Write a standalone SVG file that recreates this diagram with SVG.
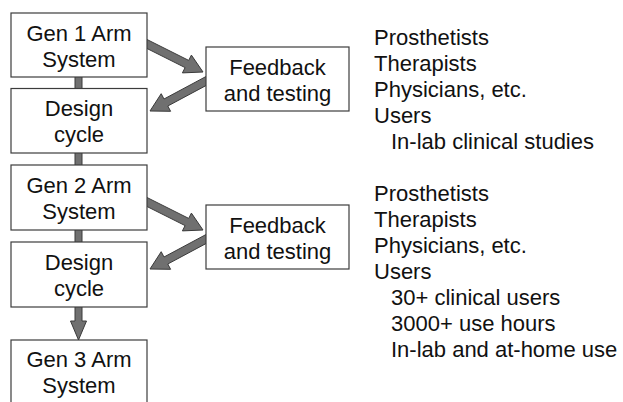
<svg xmlns="http://www.w3.org/2000/svg" width="623" height="402" viewBox="0 0 623 402">
<style>
.box{fill:#fff;stroke:#3c3c3c;stroke-width:1.2}
.con{fill:#707070;stroke:#3a3a3a;stroke-width:1}
text{font-family:"Liberation Sans",Arial,sans-serif;font-size:22px;fill:#111}
.c{text-anchor:middle}
</style>
<rect width="623" height="402" fill="#fff"/>
<g id="connectors">
<rect class="con" x="75" y="70" width="7" height="25"/>
<rect class="con" x="75" y="148" width="7" height="22"/>
<rect class="con" x="75" y="225" width="7" height="22"/>
<polygon class="con" points="75,302 82,302 82,321 86.5,321 78.5,340 70.5,321 75,321"/>
<polygon class="con" points="141.2,45.6 185.1,67.6 182.4,72.9 203,72 191.4,55.1 188.7,60.4 144.8,38.4"/>
<polygon class="con" points="208.1,75.4 164,99 161.2,93.7 150,111 170.6,111.3 167.8,106 211.9,82.4"/>
<g transform="translate(0,158)">
<polygon class="con" points="141.2,45.6 185.1,67.6 182.4,72.9 203,72 191.4,55.1 188.7,60.4 144.8,38.4"/>
<polygon class="con" points="208.1,75.4 164,99 161.2,93.7 150,111 170.6,111.3 167.8,106 211.9,82.4"/>
</g>
</g>
<g id="gen1"><rect class="box" x="11" y="13" width="136" height="64"/><text class="c" x="79" y="40.5">Gen 1 Arm</text><text class="c" x="79" y="66.5">System</text></g>
<g id="design1"><rect class="box" x="11" y="88.5" width="136" height="64.5"/><text class="c" x="79" y="116">Design</text><text class="c" x="79" y="142">cycle</text></g>
<g id="feedback1"><rect class="box" x="206" y="47" width="143" height="64"/><text class="c" x="277.5" y="74.5">Feedback</text><text class="c" x="277.5" y="100.5">and testing</text></g>
<g id="gen2"><rect class="box" x="11" y="165" width="136" height="65"/><text class="c" x="79" y="193">Gen 2 Arm</text><text class="c" x="79" y="219">System</text></g>
<g id="design2"><rect class="box" x="11" y="242" width="136" height="65"/><text class="c" x="79" y="270">Design</text><text class="c" x="79" y="296">cycle</text></g>
<g id="feedback2"><rect class="box" x="206" y="205" width="143" height="64"/><text class="c" x="277.5" y="232.5">Feedback</text><text class="c" x="277.5" y="258.5">and testing</text></g>
<g id="gen3"><rect class="box" x="11" y="340" width="136" height="80"/><text class="c" x="79" y="367">Gen 3 Arm</text><text class="c" x="79" y="393">System</text></g>
<g id="notes1">
<text x="374" y="45">Prosthetists</text>
<text x="374" y="71">Therapists</text>
<text x="374" y="97">Physicians, etc.</text>
<text x="374" y="123">Users</text>
<text x="391" y="149">In-lab clinical studies</text>
</g>
<g id="notes2">
<text x="374" y="201">Prosthetists</text>
<text x="374" y="227">Therapists</text>
<text x="374" y="253">Physicians, etc.</text>
<text x="374" y="279">Users</text>
<text x="391" y="305">30+ clinical users</text>
<text x="391" y="331">3000+ use hours</text>
<text x="391" y="357">In-lab and at-home use</text>
</g>
</svg>
